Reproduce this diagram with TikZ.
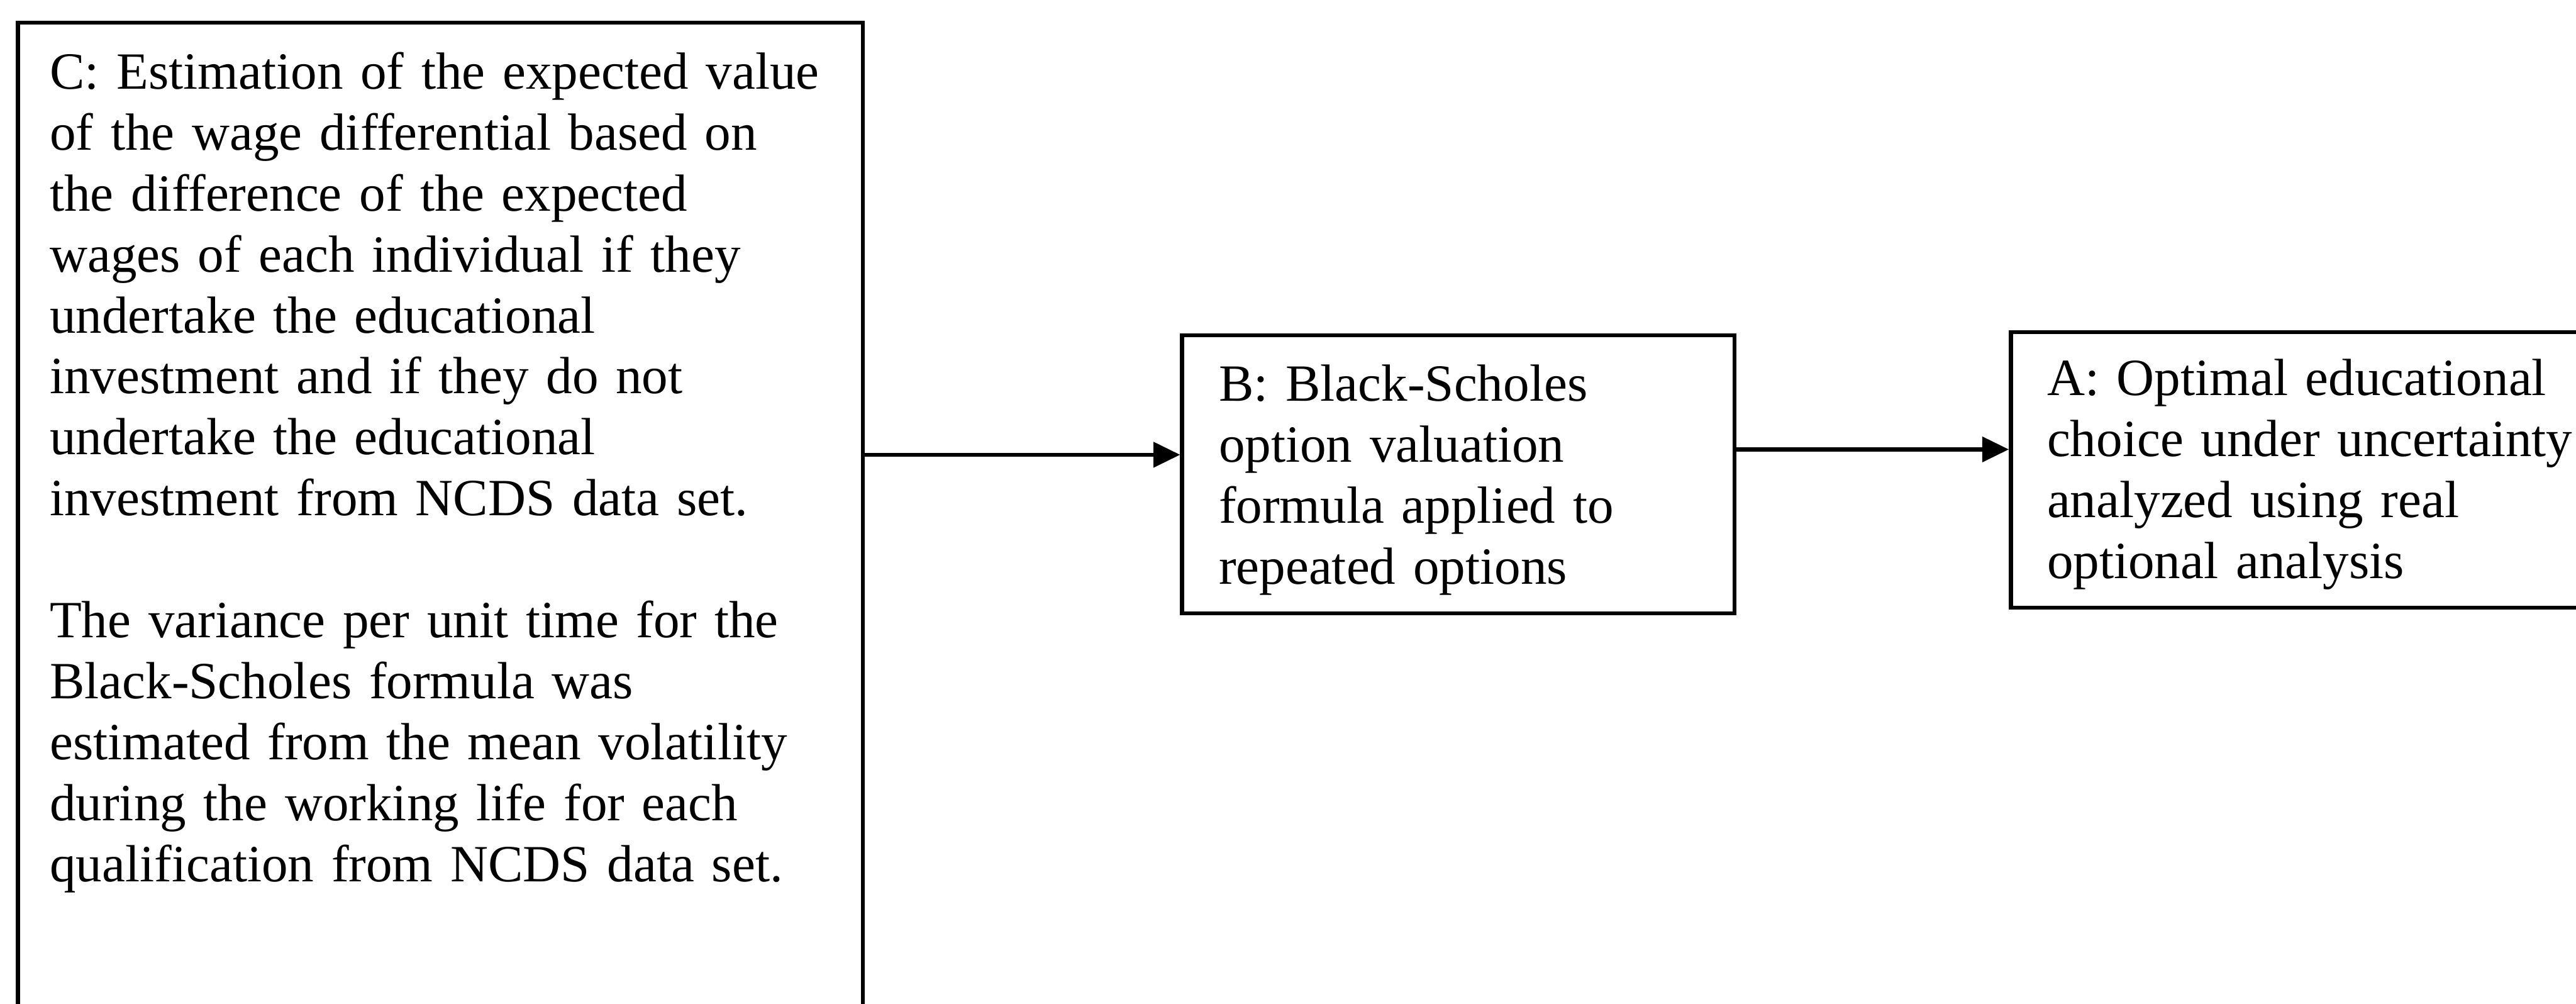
\documentclass[tikz,border=0pt]{standalone}
\usepackage{fontspec}
\setmainfont{Liberation Serif}
\usetikzlibrary{arrows.meta}
\begin{document}
\begin{tikzpicture}[x=1pt,y=1pt,
  box/.style={draw=black, line width=0.9pt, inner sep=0pt, fill=none},
  txt/.style={anchor=north west, inner sep=0pt, align=left,
    font=\fontsize{11.75}{13.7}\selectfont},
  arr/.style={line width=0.9pt, -{Triangle[length=6pt,width=5.6pt]}}]
\useasboundingbox (0,0) rectangle (579.1,-225.6);
\clip (0,0) rectangle (579.1,-225.6);
% boxes
\node[box, anchor=north west, minimum width=189.9pt, minimum height=240pt] (C) at (3.6,-4.6) {};
\node[box, anchor=north west, minimum width=124.2pt, minimum height=62.5pt] (B) at (265.3,-74.9) {};
\node[box, anchor=north west, minimum width=150pt, minimum height=61.9pt] (A) at (451.6,-74.2) {};
% texts
\node[txt, text width=180pt] (Ct) at (11.0,-10.21) {\strut C: Estimation of the expected value\\
of the wage differential based on\\
the difference of the expected\\
wages of each individual if they\\
undertake the educational\\
investment and if they do not\\
undertake the educational\\
investment from NCDS data set.\\[13.7pt]
The variance per unit time for the\\
Black-Scholes formula was\\
estimated from the mean volatility\\
during the working life for each\\
qualification from NCDS data set.};
\node[txt, text width=115pt] (Bt) at (273.8,-80.4) {\strut B: Black-Scholes\\
option valuation\\
formula applied to\\
repeated options};
\node[txt, text width=130pt] (At) at (460.0,-79.1) {\strut A: Optimal educational\\
choice under uncertainty\\
analyzed using real\\
optional analysis};
% connectors
\coordinate (cb) at (0,-102.2);
\coordinate (ba) at (0,-101.0);
\draw[arr] (C.east |- cb) -- (B.west |- cb);
\draw[arr] (B.east |- ba) -- (A.west |- ba);
\end{tikzpicture}
\end{document}
